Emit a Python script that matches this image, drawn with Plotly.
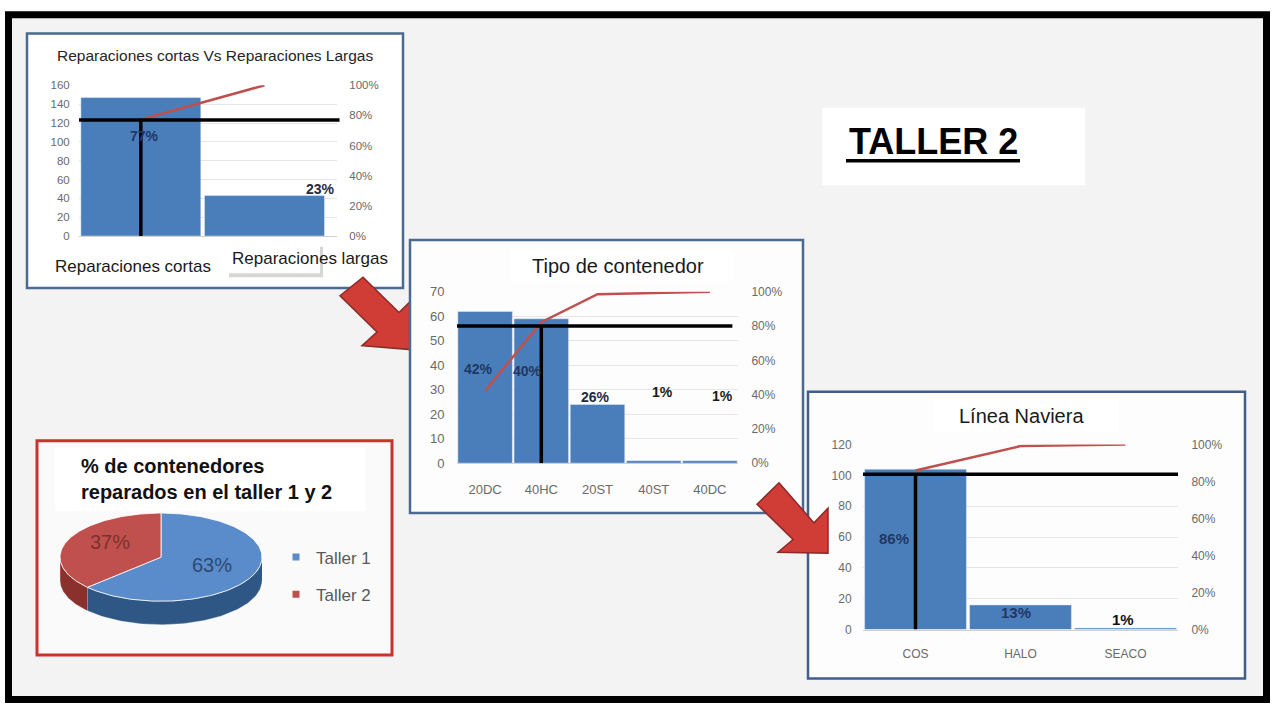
import numpy as np
import plotly.graph_objects as go

W, H = 1272, 711

# ---------------- data ----------------
REP_CATS = ["Reparaciones cortas", "Reparaciones largas"]
REP_VALUES = [147, 43]
REP_LABELS = ["77%", "23%"]

CONT_CATS = ["20DC", "40HC", "20ST", "40ST", "40DC"]
CONT_VALUES = [62, 59, 24, 1, 1]
CONT_LABELS = ["42%", "40%", "26%", "1%", "1%"]

NAV_CATS = ["COS", "HALO", "SEACO"]
NAV_VALUES = [104, 16, 1]
NAV_LABELS = ["86%", "13%", "1%"]

PIE_CATS = ["Taller 1", "Taller 2"]
PIE_VALUES = [63, 37]

FONT = "Liberation Sans, Arial, sans-serif"
BAR_C = "#4a7ebb"
LINE_C = "#c0504d"
TICK_C = "#6a6a6a"


def px(x):
    return x / W


def py(y):
    return 1 - y / H


def rect(x0, y0, x1, y1, fill, line="rgba(0,0,0,0)", lw=0):
    return dict(type="rect", xref="paper", yref="paper", layer="below",
                x0=px(x0), x1=px(x1), y0=py(y1), y1=py(y0),
                fillcolor=fill, line=dict(color=line, width=lw))


def poly(points, fill, line, lw=1.5):
    d = "M " + " L ".join(f"{px(x):.5f},{py(y):.5f}" for x, y in points) + " Z"
    return dict(type="path", xref="paper", yref="paper", layer="below", path=d,
                fillcolor=fill, line=dict(color=line, width=lw))


def note(text, x, y, size, color, xanchor="center", align="center"):
    return dict(text=text, x=px(x), y=py(y), xref="paper", yref="paper", showarrow=False,
                xanchor=xanchor, yanchor="middle", align=align,
                font=dict(size=size, color=color, family=FONT))


fig = go.Figure()
shapes = []
annotations = []

# ---------------- background / panels ----------------
shapes.append(rect(8.5, 8, 1266.5, 707.5, "#f3f3f3", "#000000", 7))
shapes.append(rect(822, 103, 1085, 182, "#ffffff"))
shapes.append(rect(27, 27, 403, 287, "#ffffff", "#4a6a94", 2.5))
shapes.append(rect(229, 245, 323, 276, "#d6d6d6"))
shapes.append(rect(226, 242, 320, 272, "#ffffff"))
# arrow 1
shapes.append(poly([(340, 295), (363, 276), (399, 312), (411, 300), (411, 350),
                    (362, 346), (377, 332)], "#d03c36", "#8b2a27"))
shapes.append(rect(410, 238, 803, 517, "#fdfdfd", "#4a6a94", 2.5))
shapes.append(rect(510, 248, 733, 280, "#ffffff"))
shapes.append(rect(808, 393, 1245, 686, "#fdfdfd", "#3f5f8a", 2.5))
shapes.append(rect(933, 400, 1118, 434, "#ffffff"))
# arrow 2
shapes.append(poly([(779, 486), (814, 527), (828, 512), (828, 558), (778, 557),
                    (793, 544), (757, 508)], "#d03c36", "#8b2a27"))
shapes.append(rect(37, 443, 392, 662, "#fafafa", "#c8332c", 3))
shapes.append(rect(55, 450, 365, 515, "#ffffff"))
# underline of TALLER 2
shapes.append(dict(type="line", xref="paper", yref="paper", layer="above",
                   x0=px(846), x1=px(1020), y0=py(157), y1=py(157),
                   line=dict(color="#000000", width=3.5)))

annotations.append(note("<b>TALLER 2</b>", 933, 137, 36, "#000000"))


# ---------------- pareto panels ----------------
def pareto(cats, vals, xa, yl, yr, cut, hx1):
    vals = np.array(vals, dtype=float)
    cum = np.cumsum(vals) / vals.sum()
    fig.add_trace(go.Bar(x=cats, y=vals, xaxis=xa, yaxis=yl, marker=dict(color=BAR_C),
                         width=0.97, showlegend=False, hoverinfo="skip"))
    fig.add_trace(go.Scatter(x=cats, y=cum, xaxis=xa, yaxis=yr, mode="lines",
                             line=dict(color=LINE_C, width=2.5), showlegend=False, hoverinfo="skip"))
    idx = int(np.argmax(cum >= cut - 0.005))
    shapes.append(dict(type="line", xref=f"{xa} domain", yref=yr, layer="above",
                       x0=0, x1=hx1, y0=cut, y1=cut, line=dict(color="#000000", width=3.5)))
    shapes.append(dict(type="line", xref=xa, yref=yr, layer="above",
                       x0=idx, x1=idx, y0=0, y1=cut, line=dict(color="#000000", width=3.5)))


pareto(REP_CATS, REP_VALUES, "x", "y", "y2", 0.77, 1.01)
pareto(CONT_CATS, CONT_VALUES, "x2", "y3", "y4", 0.80, 0.98)
pareto(NAV_CATS, NAV_VALUES, "x3", "y5", "y6", 0.84, 1.0)


def labels(texts, xa, ya, ys, shifts, colors, size):
    for i, t in enumerate(texts):
        annotations.append(dict(text=f"<b>{t}</b>", x=i, y=ys[i], xref=xa, yref=ya, xshift=shifts[i],
                                xanchor="center", yanchor="middle",
                                showarrow=False, font=dict(size=size, color=colors[i], family=FONT)))


labels(REP_LABELS, "x", "y", [106, 50], [4, 56], ["#1f3864", "#1f2a44"], 14)
labels(CONT_LABELS, "x2", "y3", [38.4, 37.6, 27, 29, 27.6], [-7, -14, -2, 9, 13],
       ["#1f3864", "#1f3864", "#1f2a44", "#1a1a1a", "#1a1a1a"], 14)
labels(NAV_LABELS, "x3", "y5", [59, 10.8, 6.3], [-22, -5, -3], ["#1f3864", "#1f3864", "#111111"], 15)

# panel titles and category labels
annotations.append(note("Reparaciones cortas Vs Reparaciones Largas", 215, 50, 15.5, "#262626"))
for cat, (cx_, cy_) in zip(REP_CATS, [(133, 265), (310, 257)]):
    annotations.append(note(cat, cx_, cy_, 17, "#1a1a1a"))
annotations.append(note("Tipo de contenedor", 618, 265, 20, "#1a1a1a"))
annotations.append(note("Línea Naviera", 1021, 418, 20, "#1a1a1a"))
annotations.append(note("<b>% de contenedores<br>reparados en el taller 1 y 2</b>", 79, 482, 20,
                        "#111111", xanchor="left", align="left"))

# ---------------- 3D-style pie ----------------
PIE_TOP = ["#5a8ccc", "#c0504d"]
PIE_SIDE = ["#2f5786", "#8a302d"]
PIE_TXT = ["#2c4a70", "#7a3230"]
cx, cy, rx, ry, depth = 111, 83, 101, 45, 24
vals = np.array(PIE_VALUES, dtype=float)
fr = vals / vals.sum()
edges = np.concatenate([[0], np.cumsum(fr)]) * 360

for i in range(len(vals)):
    a, b = edges[i], edges[i + 1]
    lo, hi = max(a, 90), min(b, 270)
    if hi > lo:
        th = np.radians(np.linspace(lo, hi, 80))
        xs = cx + rx * np.sin(th)
        ys = cy + ry * np.cos(th)
        fig.add_trace(go.Scatter(x=np.concatenate([xs, xs[::-1]]), y=np.concatenate([ys, ys[::-1] - depth]),
                                 xaxis="x4", yaxis="y7", mode="lines", fill="toself",
                                 fillcolor=PIE_SIDE[i], line=dict(color="rgba(255,255,255,0.35)", width=1),
                                 showlegend=False, hoverinfo="skip"))
for i in range(len(vals)):
    a, b = edges[i], edges[i + 1]
    th = np.radians(np.linspace(a, b, 160))
    xs = np.concatenate([[cx], cx + rx * np.sin(th), [cx]])
    ys = np.concatenate([[cy], cy + ry * np.cos(th), [cy]])
    fig.add_trace(go.Scatter(x=xs, y=ys, xaxis="x4", yaxis="y7", mode="lines", fill="toself",
                             fillcolor=PIE_TOP[i], line=dict(color="rgba(255,255,255,0.8)", width=1),
                             showlegend=False, hoverinfo="skip"))

mid = np.radians((edges[:-1] + edges[1:]) / 2)
fig.add_trace(go.Scatter(x=cx + 0.55 * rx * np.sin(mid), y=cy + 0.55 * ry * np.cos(mid) + np.array([0, 4]),
                         xaxis="x4", yaxis="y7", mode="text",
                         text=[f"{f:.0%}" for f in fr],
                         textfont=dict(size=20, color=PIE_TXT, family=FONT),
                         showlegend=False, hoverinfo="skip"))
for i, c in enumerate(PIE_CATS):
    fig.add_trace(go.Scatter(x=[None], y=[None], xaxis="x4", yaxis="y7", mode="markers",
                             marker=dict(symbol="square", size=7, color=PIE_TOP[i]),
                             name=c, legendgroup=c, showlegend=True))

# ---------------- layout ----------------
tick_hidden = "rgba(0,0,0,0)"


def yleft(dom, rng, dt, size, tl):
    return dict(domain=dom, range=rng, dtick=dt, showgrid=True, gridcolor="#e6e6e6", zeroline=False,
                ticks="outside", ticklen=tl, tickcolor=tick_hidden, showline=False, fixedrange=True,
                tickfont=dict(size=size, color=TICK_C, family=FONT))


def yright(over, anchor, size, tl):
    return dict(overlaying=over, anchor=anchor, side="right", range=[0, 1], dtick=0.2, tickformat=".0%",
                showgrid=False, zeroline=False, ticks="outside", ticklen=tl, tickcolor=tick_hidden,
                fixedrange=True, tickfont=dict(size=size, color=TICK_C, family=FONT))


def xcat(dom, anchor, show, size, tl):
    return dict(domain=dom, anchor=anchor, type="category", showticklabels=show, showgrid=False,
                showline=True, linecolor="#d0d0d0", linewidth=1, ticks="outside" if show else "",
                ticklen=tl, tickcolor=tick_hidden, fixedrange=True,
                tickfont=dict(size=size, color=TICK_C, family=FONT))


fig.update_layout(
    width=W, height=H, autosize=False,
    margin=dict(l=0, r=0, t=0, b=0),
    paper_bgcolor="#ffffff", plot_bgcolor="rgba(0,0,0,0)",
    font=dict(family=FONT),
    xaxis=xcat([79 / W, 337 / W], "y", False, 12, 0),
    yaxis=dict(yleft([1 - 234 / H, 1 - 80 / H], [0, 160], 20, 11.5, 6), anchor="x"),
    yaxis2=yright("y", "x", 11.5, 9),
    xaxis2=xcat([457 / W, 738 / W], "y3", True, 13, 14),
    yaxis3=dict(yleft([1 - 466 / H, 1 - 291 / H], [0, 70], 10, 13, 9), anchor="x2"),
    yaxis4=yright("y3", "x2", 12, 10),
    xaxis3=xcat([863 / W, 1178 / W], "y5", True, 12, 13),
    yaxis5=dict(yleft([1 - 636 / H, 1 - 447 / H], [0, 120], 20, 12, 8), anchor="x3"),
    yaxis6=yright("y5", "x3", 12, 10),
    xaxis4=dict(domain=[50 / W, 280 / W], anchor="y7", range=[0, 230], visible=False, fixedrange=True),
    yaxis7=dict(domain=[1 - 645 / H, 1 - 505 / H], anchor="x4", range=[0, 140], visible=False, fixedrange=True),
    showlegend=True,
    legend=dict(x=px(276), y=py(544), xanchor="left", yanchor="top", bgcolor="rgba(0,0,0,0)",
                font=dict(size=17, color="#595959", family=FONT), tracegroupgap=12),
    shapes=shapes,
    annotations=annotations,
)

fig.write_html("out.html")
